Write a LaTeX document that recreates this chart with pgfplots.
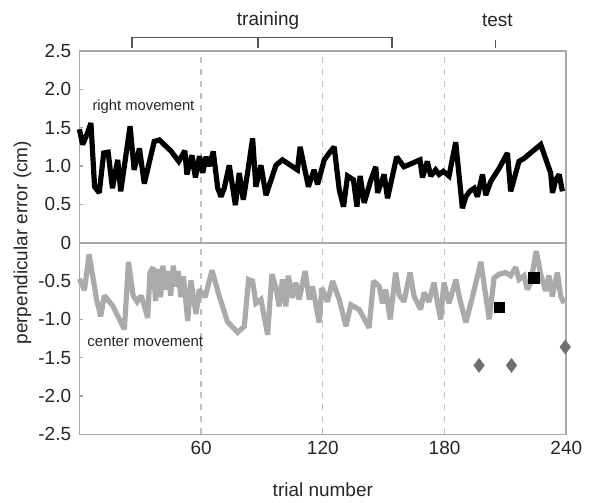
\documentclass[border=0pt]{standalone}
\usepackage{fontspec}
\setmainfont{Liberation Sans}
\usepackage{pgfplots}
\pgfplotsset{compat=1.18}
\definecolor{axgray}{HTML}{A8A8A8}
\definecolor{linegray}{HTML}{AAAAAA}
\definecolor{diagray}{HTML}{6E6E6E}
\definecolor{txt}{HTML}{262626}
\definecolor{brk}{HTML}{555555}

\begin{document}
\begin{tikzpicture}
\begin{axis}[
    scale only axis,
    width=243.8pt, height=192pt,
    xmin=0, xmax=240, ymin=-2.5, ymax=2.5,
    xtick={60,120,180,240},
    ytick={-2.5,-2,-1.5,-1,-0.5,0,0.5,1,1.5,2,2.5},
    yticklabels={-2.5,-2.0,-1.5,-1.0,-0.5,0,0.5,1.0,1.5,2.0,2.5},
    xtick pos=bottom, ytick pos=left,
    tick align=inside,
    major tick length=1.6pt,
    xtick style={draw=none},
    ytick style={axgray, line width=0.6pt},
    axis line style={axgray, line width=0.8pt},
    xmajorgrids,
    major grid style={dashed, axgray!70, line width=0.6pt},
    /pgf/number format/assume math mode=true,
    tick label style={font=\fontsize{9.5}{11}\selectfont, text=txt},
    yticklabel style={xshift=-0.6pt},
    label style={font=\fontsize{9.5}{11}\selectfont, text=txt},
    xlabel={trial number},
    ylabel={perpendicular error (cm)},
    x label style={at={(axis description cs:0.5,-0.143)}, anchor=center},
    y label style={at={(axis description cs:-0.117,0.5)}, anchor=center},
    clip=false,
]
% page frame
\path (axis description cs:-0.163,-0.172) rectangle (axis description cs:1.0487,1.133);

% zero line
\addplot[axgray, line width=0.8pt] coordinates {(0,0) (240,0)};

% right movement
\addplot[black, line width=2.6pt, miter limit=2] coordinates {
(0,1.48)(1.6,1.28)(4,1.43)(5.7,1.56)(7.5,0.73)(9.8,0.65)(12,1.17)(14.2,1.18)
(16.3,0.71)(18.9,1.08)(20.4,0.67)(25,1.52)(27,0.95)(29.6,1.23)(32,0.77)
(36.9,1.32)(39.4,1.34)(45,1.20)(49,1.06)(52,1.20)(53,0.89)(55.5,1.14)(57.2,0.85)
(59.2,1.13)(60.8,0.91)(62.4,1.12)(64,1.00)(66,1.19)(68.2,0.71)(69.8,0.60)
(71.4,0.71)(73.9,1.01)(76.9,0.49)(78.8,0.91)(80.8,0.56)(82.9,0.91)(85.4,1.36)
(87,0.73)(89.5,1.01)(92,0.62)(96.9,1.01)(100.1,1.08)(107.5,0.95)(108.8,1.25)
(112.9,0.73)(115.7,0.95)(117.4,0.76)(120.7,1.08)(123.2,1.17)(125.6,1.25)
(128.1,0.69)(130.2,0.47)(132.2,0.87)(135.1,0.82)(136.8,0.47)(138.4,0.87)
(140.4,0.52)(143.7,0.82)(146.1,0.99)(147,0.65)(150.2,0.89)(151.9,0.58)
(156.4,1.12)(160,0.99)(167.9,1.08)(169.1,0.85)(171.5,1.06)(173.2,0.87)
(175.6,0.95)(177.3,0.89)(179.4,0.93)(182.2,0.87)(185.5,1.31)(188.8,0.45)
(190.5,0.60)(192.4,0.67)(194.6,0.71)(196.2,0.60)(198.7,0.89)(200.3,0.62)
(202.8,0.80)(206.9,0.97)(211,1.17)(212.6,0.67)(216.7,1.06)(219.2,1.10)
(227.4,1.28)(232.3,0.91)(233.2,0.65)(234.8,0.82)(236.5,0.89)(238.1,0.67)
};

% center movement
\addplot[linegray, line width=2.6pt, miter limit=2] coordinates {
(0,-0.47)(2.5,-0.62)(4.8,-0.15)(8.5,-0.74)(10.5,-0.96)(12.3,-0.69)(16.4,-0.82)
(22.2,-1.13)(24.2,-0.25)(26.5,-0.69)(28.5,-0.77)(30.5,-0.69)(33.7,-0.98)
(34.8,-0.39)(36.3,-0.32)(37.6,-0.76)(38.8,-0.34)(40,-0.71)(41.2,-0.30)
(42.5,-0.61)(43.8,-0.37)(45,-0.69)(46.3,-0.30)(47.5,-0.57)(48.7,-0.37)
(50,-0.71)(51.3,-0.44)(53.4,-1.02)(55,-0.49)(57.5,-0.93)(59.1,-0.61)
(62,-0.71)(65.4,-0.36)(69,-0.70)(73,-1.03)(78,-1.17)(81.3,-1.09)(83.4,-0.48)
(85.4,-0.50)(87,-0.79)(89.5,-0.74)(92.8,-1.20)(94.9,-0.41)(96.9,-0.59)
(98.5,-0.83)(100.1,-0.48)(101.8,-0.83)(103,-0.43)(105,-0.72)(106.7,-0.52)
(108.3,-0.74)(111.3,-0.37)(113.3,-0.74)(114.9,-0.57)(118.2,-1.04)(119.5,-0.59)
(122.3,-0.77)(124.8,-0.50)(128.1,-0.74)(131.4,-1.09)(133.8,-0.81)(137.9,-0.87)
(142.8,-1.11)(145,-0.50)(147.8,-0.57)(149.4,-0.79)(151,-0.61)(153.2,-1.00)
(155.9,-0.39)(157.6,-0.68)(160,-0.77)(163,-0.39)(165,-0.70)(168.2,-0.87)
(169.9,-0.65)(172.3,-0.77)(174.8,-0.52)(176.4,-0.77)(178.1,-1.00)(179.7,-0.52)
(182.2,-0.79)(185.6,-0.48)(187.2,-0.70)(190.5,-1.04)(193.8,-0.70)(197.9,-0.25)
(202,-1.00)(204.4,-0.46)(206.9,-0.41)(210.2,-0.39)(212.6,-0.43)(215.1,-0.32)
(216.7,-0.48)(219.2,-0.43)(220.8,-0.61)(222.5,-0.52)(225.2,-0.11)(227.4,-0.41)
(229.8,-0.63)(231.5,-0.43)(233.1,-0.70)(235.6,-0.39)(237.3,-0.70)(238.9,-0.79)
};

% test markers
\addplot[only marks, mark=square*, mark size=2.6pt, black] coordinates {(207,-0.84) (224,-0.46)};
\addplot[only marks, mark=diamond*, mark size=3.4pt, diagray, mark options={draw=diagray, fill=diagray}] coordinates {(197,-1.60) (213,-1.60) (239.5,-1.36)};

% annotations
\node[anchor=west, font=\fontsize{7.4}{9}\selectfont, text=txt] at (axis cs:3,1.77) {right movement};
\node[anchor=west, font=\fontsize{7.5}{9}\selectfont, text=txt] at (axis cs:0.5,-1.285) {center movement};
\draw[brk, line width=0.75pt] (axis cs:26,2.54) -- (axis cs:26,2.675) -- (axis cs:154,2.675) -- (axis cs:154,2.54);
\draw[brk, line width=0.75pt] (axis cs:88,2.675) -- (axis cs:88,2.54);
\draw[brk, line width=0.75pt] (axis cs:205,2.645) -- (axis cs:205,2.54);
\node[font=\fontsize{9.5}{11}\selectfont, text=txt] at (axis cs:93,2.90) {training};
\node[font=\fontsize{9.5}{11}\selectfont, text=txt] at (axis cs:206,2.90) {test};
\end{axis}
\end{tikzpicture}
\end{document}
